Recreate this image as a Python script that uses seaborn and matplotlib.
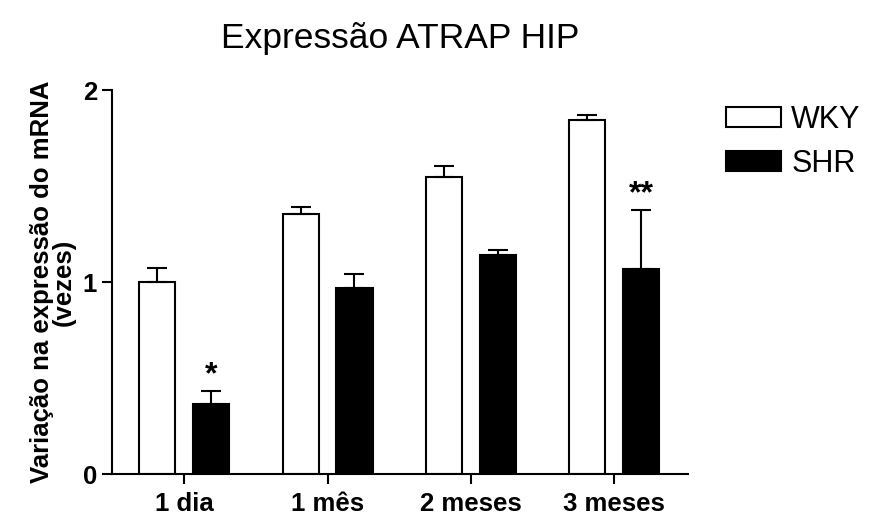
import matplotlib
matplotlib.use("Agg")
import matplotlib.pyplot as plt
import seaborn as sns
import pandas as pd
import numpy as np
from matplotlib.patches import Patch

categories = ["1 dia", "1 mês", "2 meses", "3 meses"]
groups = ["WKY", "SHR"]
wky_values = [1.00, 1.356, 1.545, 1.842]
wky_errors = [0.073, 0.034, 0.059, 0.028]
shr_values = [0.368, 0.972, 1.139, 1.066]
shr_errors = [0.066, 0.071, 0.029, 0.307]
shr_marks = ["*", "", "", "**"]

sns.set_theme(style="ticks")
plt.rcParams["font.family"] = ["Liberation Sans", "DejaVu Sans"]
plt.rcParams.update({"text.color": "black", "axes.labelcolor": "black",
                     "xtick.color": "black", "ytick.color": "black",
                     "axes.edgecolor": "black"})

df = pd.DataFrame({
    "cat": categories * 2,
    "grp": ["WKY"] * 4 + ["SHR"] * 4,
    "val": wky_values + shr_values,
})

fig = plt.figure(figsize=(8.69, 5.16), dpi=100)
ax = fig.add_axes([111.7 / 869, 1 - 474.3 / 516, (688 - 111.7) / 869, (474.3 - 90) / 516])

sns.barplot(data=df, x="cat", y="val", hue="grp", order=categories, hue_order=groups,
            palette={"WKY": "white", "SHR": "black"}, edgecolor="black", linewidth=1.5,
            width=0.75, gap=0.33, errorbar=None, legend=False, ax=ax)

# error bars (upward only) from bar patches
errs = {"WKY": wky_errors, "SHR": shr_errors}
vals = {"WKY": wky_values, "SHR": shr_values}
for gi, g in enumerate(groups):
    cont = ax.containers[gi]
    xs = [p.get_x() + p.get_width() / 2 for p in cont.patches]
    ax.errorbar(xs, vals[g], yerr=[np.zeros(4), errs[g]], fmt="none", ecolor="black",
                elinewidth=1.5, capsize=7, capthick=1.5, clip_on=False, zorder=1)
    if g == "SHR":
        for x, v, e, m in zip(xs, vals[g], errs[g], shr_marks):
            if m:
                ax.text(x, v + e + 0.005, m, ha="center", va="bottom", fontsize=23,
                        fontweight="bold", color="black")

ax.set_xlim(-0.507, 3.515)
ax.set_ylim(0, 2)
ax.set_yticks([0, 1, 2])
ax.set_yticklabels(["0", "1", "2"])
ax.set_xlabel("")
ax.set_ylabel("Variação na expressão do mRNA\n(vezes)", fontsize=18.5, fontweight="bold",
              linespacing=0.9, color="black")
ax.yaxis.set_label_coords(-0.062, 0.5)
ax.tick_params(axis="both", length=7, width=1.5, color="black", labelsize=18.5,
               labelcolor="black")
ax.tick_params(axis="x", pad=6)
for lab in ax.get_xticklabels() + ax.get_yticklabels():
    lab.set_fontweight("bold")
sns.despine(ax=ax)
for s in ["left", "bottom"]:
    ax.spines[s].set_linewidth(1.5)
    ax.spines[s].set_color("black")

ax.set_title("Expressão ATRAP HIP", fontsize=25.5, pad=30, color="black")

handles = [Patch(facecolor="white", edgecolor="black", linewidth=1.5, label="WKY"),
           Patch(facecolor="black", edgecolor="black", linewidth=1.5, label="SHR")]
leg = fig.legend(handles=handles, loc="upper left", bbox_to_anchor=(720 / 869, 1 - 99 / 516),
                 frameon=False, fontsize=22, handlelength=1.8, handleheight=0.62,
                 handletextpad=0.33, labelspacing=0.45, borderaxespad=0, borderpad=0.2)
for t in leg.get_texts():
    t.set_color("black")

fig.savefig("out.png", dpi=100)
